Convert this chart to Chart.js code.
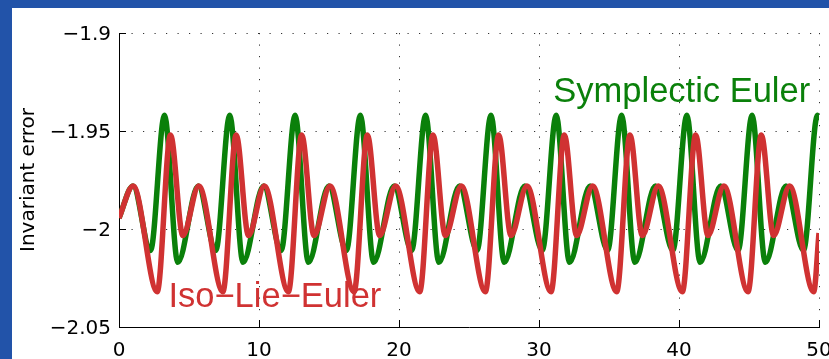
<!DOCTYPE html>
<html>
<head>
<meta charset="utf-8">
<style>
html,body{margin:0;padding:0;background:#fff;overflow:hidden}
canvas{display:block}
</style>
<script src="https://cdn.jsdelivr.net/npm/chart.js@4.4.1/dist/chart.umd.min.js"></script>
</head>
<body>
<canvas id="c" width="829" height="359"></canvas>
<script>
// ---- data ----
const xTicks = [0, 10, 20, 30, 40, 50];
const xTickLabels = ['0', '10', '20', '30', '40', '50'];
const yTicks = [-2.05, -2, -1.95, -1.9];
const yTickLabels = ['\u22122.05', '\u22122', '\u22121.95', '\u22121.9'];
const yTitle = 'Invariant error';
const seriesNames = ['Symplectic Euler', 'Iso\u2212Lie\u2212Euler'];

// Symplectic Euler (green): extrema
const symT = [0,
  1.00, 2.25, 3.25, 4.20,
  5.66, 6.91, 7.91, 8.86,
  10.33, 11.58, 12.58, 13.53,
  14.99, 16.24, 17.24, 18.19,
  19.65, 20.90, 21.90, 22.85,
  24.32, 25.57, 26.57, 27.52,
  28.98, 30.23, 31.23, 32.18,
  33.65, 34.90, 35.90, 36.85,
  38.31, 39.56, 40.56, 41.51,
  42.97, 44.22, 45.22, 46.17,
  47.64, 48.89, 49.89, 50];
const symV = [-1.9944,
  -1.978, -2.011, -1.942, -2.017,
  -1.978, -2.011, -1.942, -2.017,
  -1.978, -2.011, -1.942, -2.017,
  -1.978, -2.011, -1.942, -2.017,
  -1.978, -2.011, -1.942, -2.017,
  -1.978, -2.011, -1.942, -2.017,
  -1.978, -2.011, -1.942, -2.017,
  -1.978, -2.011, -1.942, -2.017,
  -1.978, -2.011, -1.942, -2.017,
  -1.978, -2.011, -1.942, -2.017,
  -1.978, -2.011, -1.942, -1.9445];

// Iso-Lie-Euler (red): extrema
const isoT = [0,
  1.01, 2.73, 3.68, 4.56,
  5.70, 7.42, 8.37, 9.25,
  10.38, 12.10, 13.05, 13.93,
  15.07, 16.79, 17.74, 18.62,
  19.76, 21.48, 22.43, 23.31,
  24.45, 26.17, 27.12, 28.00,
  29.14, 30.86, 31.81, 32.69,
  33.83, 35.55, 36.50, 37.38,
  38.52, 40.24, 41.19, 42.07,
  43.21, 44.93, 45.88, 46.76,
  47.90, 49.62, 50];
const isoV = [-1.9944,
  -1.978, -2.032, -1.952, -2.0033,
  -1.978, -2.032, -1.952, -2.0033,
  -1.978, -2.032, -1.952, -2.0033,
  -1.978, -2.032, -1.952, -2.0033,
  -1.978, -2.032, -1.952, -2.0033,
  -1.978, -2.032, -1.952, -2.0033,
  -1.978, -2.032, -1.952, -2.0033,
  -1.978, -2.032, -1.952, -2.0033,
  -1.978, -2.032, -1.952, -2.0033,
  -1.978, -2.032, -1.952, -2.0033,
  -1.978, -2.032, -2.002];

// label anchors (data coordinates)
const symLabelPos = [31.02, -1.93505];
const isoLabelPos = [3.53, -2.04];

const GREEN = '#0a800a';
const RED = '#d03232';
const FRAME = '#2253a9';

const toPts = (ts, vs) => ts.map((t, i) => ({x: t, y: vs[i]}));

const framePlugin = {
  id: 'frame',
  beforeDraw(chart) {
    const {ctx, width, height} = chart;
    ctx.save();
    ctx.fillStyle = FRAME;
    ctx.fillRect(0, 0, width, height);
    ctx.fillStyle = '#ffffff';
    ctx.fillRect(12, 8, width - 12, height - 8);
    ctx.restore();
  },
  beforeDatasetsDraw(chart) {
    const {ctx, chartArea: a, scales: {x, y}} = chart;
    ctx.save();
    ctx.strokeStyle = '#000';
    ctx.lineWidth = 1;
    ctx.beginPath();
    yTicks.forEach(v => {
      const py = Math.round(y.getPixelForValue(v)) + 0.5;
      ctx.moveTo(a.left, py); ctx.lineTo(a.left + 7, py);
    });
    xTicks.forEach(v => {
      const px = Math.round(x.getPixelForValue(v)) + 0.5;
      ctx.moveTo(px, a.bottom); ctx.lineTo(px, a.bottom - 7);
    });
    ctx.stroke();
    ctx.restore();
  },
  afterDatasetsDraw(chart) {
    const {ctx, scales: {x, y}} = chart;
    ctx.save();
    ctx.font = '34.5px "Liberation Sans", Arial, sans-serif';
    ctx.textBaseline = 'alphabetic';
    ctx.textAlign = 'left';
    ctx.fillStyle = GREEN;
    ctx.fillText(seriesNames[0], x.getPixelForValue(symLabelPos[0]), y.getPixelForValue(symLabelPos[1]));
    ctx.fillStyle = RED;
    ctx.fillText(seriesNames[1], x.getPixelForValue(isoLabelPos[0]), y.getPixelForValue(isoLabelPos[1]));
    ctx.restore();
  }
};

const tickFont = {family: '"DejaVu Sans", sans-serif', size: 20};

new Chart(document.getElementById('c'), {
  type: 'line',
  data: {
    datasets: [
      {label: seriesNames[0], data: toPts(symT, symV), borderColor: GREEN, borderWidth: 5.5,
       pointRadius: 0, cubicInterpolationMode: 'monotone', fill: false, order: 1},
      {label: seriesNames[1], data: toPts(isoT, isoV), borderColor: RED, borderWidth: 5.5,
       pointRadius: 0, cubicInterpolationMode: 'monotone', fill: false, order: 0}
    ]
  },
  options: {
    responsive: false,
    animation: false,
    devicePixelRatio: 1,
    events: [],
    layout: {padding: {left: 0, top: 33, right: 10, bottom: 0}},
    plugins: {legend: {display: false}, tooltip: {enabled: false}},
    scales: {
      x: {
        type: 'linear', min: 0, max: 50,
        afterBuildTicks: s => { s.ticks = xTicks.map(v => ({value: v})); },
        afterFit: s => { s.height = 32; s.paddingLeft = 0; s.paddingRight = 0; },
        ticks: {autoSkip: false, maxRotation: 0, padding: 12, color: '#000', font: tickFont,
                callback: (v, i) => xTickLabels[i]},
        grid: {color: '#333', lineWidth: 1, drawTicks: false},
        border: {display: true, color: '#000', width: 1, dash: [1.2, 10.3]}
      },
      y: {
        type: 'linear', min: -2.05, max: -1.9,
        afterBuildTicks: s => { s.ticks = yTicks.map(v => ({value: v})); },
        afterFit: s => { s.width = 119; s.paddingTop = 0; s.paddingBottom = 0; },
        ticks: {autoSkip: false, padding: 8, labelOffset: 2, color: '#000', font: tickFont,
                callback: (v, i) => yTickLabels[i]},
        grid: {color: '#333', lineWidth: 1, drawTicks: false},
        border: {display: true, color: '#000', width: 1, dash: [1.2, 10.3]},
        title: {display: true, text: yTitle, color: '#000',
                font: {family: '"DejaVu Sans", sans-serif', size: 20},
                padding: {top: 17, bottom: 0}}
      }
    }
  },
  plugins: [framePlugin]
});
</script>
</body>
</html>
